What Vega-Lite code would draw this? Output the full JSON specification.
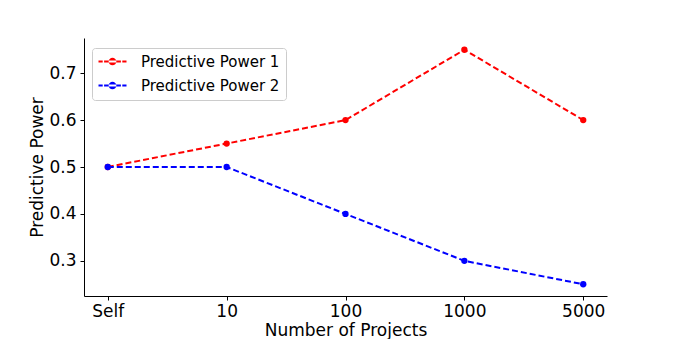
{
  "$schema": "https://vega.github.io/schema/vega-lite/v6.json",
  "width": 523,
  "height": 258,
  "autosize": "none",
  "padding": {"left": 84, "top": 38, "right": 68, "bottom": 43},
  "background": "white",
  "config": {
    "view": {"stroke": null},
    "font": "DejaVu Sans",
    "axis": {"grid": false, "domainColor": "black", "tickColor": "black", "labelColor": "black", "titleColor": "black", "titleFontWeight": "normal", "labelFontSize": 17, "titleFontSize": 17, "tickSize": 4, "labelFont": "DejaVu Sans", "titleFont": "DejaVu Sans"}
  },
  "data": {"values": [
    {"projects": "Self", "series": "Predictive Power 1", "value": 0.5},
    {"projects": "10", "series": "Predictive Power 1", "value": 0.55},
    {"projects": "100", "series": "Predictive Power 1", "value": 0.6},
    {"projects": "1000", "series": "Predictive Power 1", "value": 0.75},
    {"projects": "5000", "series": "Predictive Power 1", "value": 0.6},
    {"projects": "Self", "series": "Predictive Power 2", "value": 0.5},
    {"projects": "10", "series": "Predictive Power 2", "value": 0.5},
    {"projects": "100", "series": "Predictive Power 2", "value": 0.4},
    {"projects": "1000", "series": "Predictive Power 2", "value": 0.3},
    {"projects": "5000", "series": "Predictive Power 2", "value": 0.25}
  ]},
  "encoding": {
    "x": {"field": "projects", "type": "ordinal", "sort": ["Self", "10", "100", "1000", "5000"], "scale": {"type": "point", "padding": 0.2}, "title": "Number of Projects", "axis": {"labelAngle": 0, "labelPadding": 3, "titlePadding": 3}},
    "y": {"field": "value", "type": "quantitative", "scale": {"domain": [0.225, 0.775], "nice": false, "zero": false}, "title": "Predictive Power", "axis": {"values": [0.3, 0.4, 0.5, 0.6, 0.7], "format": ".1f", "labelPadding": 4, "titlePadding": 2}},
    "color": {"field": "series", "type": "nominal", "scale": {"domain": ["Predictive Power 1", "Predictive Power 2"], "range": ["#ff0000", "#0000ff"]}}
  },
  "layer": [
    {
      "mark": {"type": "line", "strokeDash": [6, 3], "strokeWidth": 2},
      "encoding": {
        "color": {"field": "series", "type": "nominal", "scale": {"domain": ["Predictive Power 1", "Predictive Power 2"], "range": ["#ff0000", "#0000ff"]},
          "legend": {"title": null, "orient": "none", "legendX": 8, "legendY": 10, "fillColor": "white", "strokeColor": "#cccccc", "cornerRadius": 3, "padding": 6, "labelFontSize": 15, "labelFont": "DejaVu Sans", "labelColor": "black", "rowPadding": 8, "labelOffset": 21, "symbolOffset": 7,
            "symbolType": "M-2,-0.13H-1.4V0.13H-2Z M-1.2,-0.13H-0.6V0.13H-1.2Z M0.6,-0.13H1.2V0.13H0.6Z M1.4,-0.13H2V0.13H1.4Z M-0.55,0A0.55,0.55 0 1,0 0.55,0A0.55,0.55 0 1,0 -0.55,0Z M-0.6,-0.13H0.6V0.13H-0.6Z",
            "symbolSize": 196, "symbolStrokeWidth": 0, "symbolOpacity": 1}}
      }
    },
    {
      "mark": {"type": "point", "filled": true, "size": 40, "opacity": 1},
      "encoding": {"color": {"field": "series", "type": "nominal", "legend": null}}
    }
  ]
}
